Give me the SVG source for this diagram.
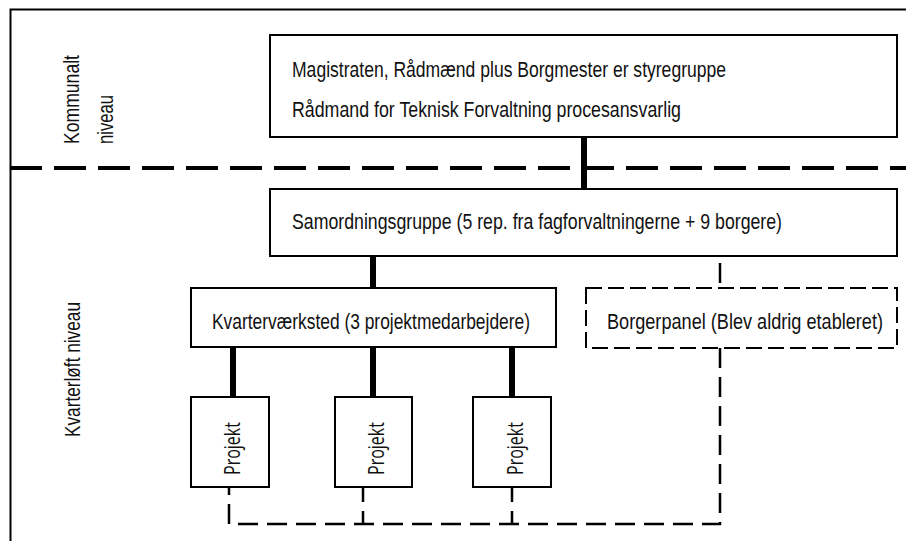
<svg xmlns="http://www.w3.org/2000/svg" width="906" height="541" viewBox="0 0 906 541">
<style>
  .bg{fill:#ffffff}
  .frame{stroke:#000;stroke-width:2;fill:none}
  .sep{stroke:#000;stroke-width:4;stroke-dasharray:32 12;fill:none}
  .box{fill:#fff;stroke:#000;stroke-width:2}
  .dbox{fill:#fff;stroke:#000;stroke-width:2;stroke-dasharray:16 6}
  .thick{stroke:#000;stroke-width:6;fill:none}
  .dash{stroke:#000;stroke-width:2.5;fill:none;stroke-dasharray:20 9}
  .dshort{stroke:#000;stroke-width:2.5;fill:none;stroke-dasharray:15 9}
  .t{font-family:"Liberation Sans Narrow","Arial Narrow","Liberation Sans",Arial,sans-serif;font-size:21.5px;fill:#111}
  .p{font-family:"Open Sans","Noto Sans","DejaVu Sans",sans-serif;font-size:21px;fill:#111}
</style>
<rect class="bg" x="0" y="0" width="906" height="541"/>
<g id="frame">
  <path class="frame" d="M10.5,541 V9.5 H906"/>
  <path class="sep" d="M10,168 H906"/>
</g>
<g id="labels">
  <text class="t" transform="translate(79,144) rotate(-90) scale(0.82,1)" x="0" y="0" textLength="108.5" lengthAdjust="spacingAndGlyphs">Kommunalt</text>
  <text class="t" transform="translate(113,144) rotate(-90) scale(0.82,1)" x="0" y="0" textLength="59.8" lengthAdjust="spacingAndGlyphs">niveau</text>
  <text class="t" transform="translate(80,437) rotate(-90) scale(0.82,1)" x="0" y="0" textLength="164.6" lengthAdjust="spacingAndGlyphs">Kvarterløft niveau</text>
</g>
<g id="connectors">
  <path class="thick" d="M584,137 V189"/>
  <path class="thick" d="M373,256 V288"/>
  <path class="thick" d="M233,347 V397"/>
  <path class="thick" d="M373,347 V397"/>
  <path class="thick" d="M512,347 V397"/>
  <path class="dash" d="M720,256 V288" stroke-dashoffset="22"/>
  <path class="dash" d="M720,348 V524 H229 V487"/>
  <path class="dshort" d="M363,487 V524"/>
  <path class="dshort" d="M512,487 V524"/>
</g>
<g id="magistraten">
  <rect class="box" x="270" y="35" width="627" height="102"/>
  <text class="t" transform="translate(292,77) scale(0.82,1)" x="0" y="0" textLength="529.3" lengthAdjust="spacingAndGlyphs">Magistraten, Rådmænd plus Borgmester er styregruppe</text>
  <text class="t" transform="translate(292,117) scale(0.82,1)" x="0" y="0" textLength="474.4" lengthAdjust="spacingAndGlyphs">Rådmand for Teknisk Forvaltning procesansvarlig</text>
</g>
<g id="samordningsgruppe">
  <rect class="box" x="270" y="189" width="627" height="67"/>
  <text class="t" transform="translate(292,229) scale(0.82,1)" x="0" y="0" textLength="597.6" lengthAdjust="spacingAndGlyphs">Samordningsgruppe (5 rep. fra fagforvaltningerne + 9 borgere)</text>
</g>
<g id="kvartervaerksted">
  <rect class="box" x="191" y="288" width="365" height="59"/>
  <text class="t" transform="translate(212,329) scale(0.82,1)" x="0" y="0" textLength="387.8" lengthAdjust="spacingAndGlyphs">Kvarterværksted (3 projektmedarbejdere)</text>
</g>
<g id="borgerpanel">
  <rect class="dbox" x="586" y="288" width="311" height="60"/>
  <text class="t" transform="translate(607,329) scale(0.82,1)" x="0" y="0" textLength="336.6" lengthAdjust="spacingAndGlyphs">Borgerpanel (Blev aldrig etableret)</text>
</g>
<g id="projekt1">
  <rect class="box" x="191" y="397" width="78" height="90"/>
  <text class="p" transform="translate(240,475) rotate(-90)" x="0" y="0" textLength="53" lengthAdjust="spacingAndGlyphs">Projekt</text>
</g>
<g id="projekt2">
  <rect class="box" x="335" y="397" width="77" height="90"/>
  <text class="p" transform="translate(384,475) rotate(-90)" x="0" y="0" textLength="53" lengthAdjust="spacingAndGlyphs">Projekt</text>
</g>
<g id="projekt3">
  <rect class="box" x="473" y="397" width="78" height="90"/>
  <text class="p" transform="translate(523,475) rotate(-90)" x="0" y="0" textLength="53" lengthAdjust="spacingAndGlyphs">Projekt</text>
</g>
</svg>
